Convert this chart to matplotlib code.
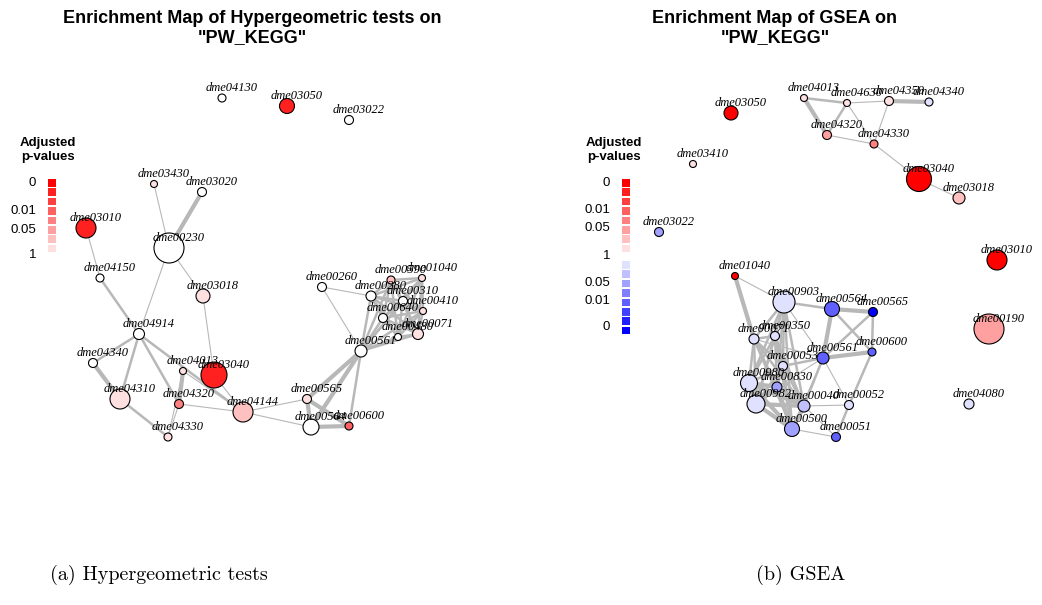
import itertools

import matplotlib
matplotlib.use('Agg')
from matplotlib import pyplot as plt
from matplotlib.collections import LineCollection
from matplotlib.patches import Rectangle

# palette = legend squares top to bottom (red: strong -> weak, blue: weak -> strong)
palette = ['#ff0000', '#ff2020', '#ff4040', '#ff6060', '#ff8080', '#ffa0a0', '#ffc0c0', '#ffe0e0',
           '#e0e0ff', '#c0c0ff', '#a0a0ff', '#8080ff', '#6060ff', '#4040ff', '#2020ff', '#0000ff']

# ---- panel (a): hypergeometric tests ----
# name: (x, y, gene-set size (radius), colour level; -1 = not significant)
nodes_a = {
    'dme04130': (222, 98, 4, -1),
    'dme03050': (287, 106, 7.5, 1),
    'dme03022': (349, 120, 4.5, -1),
    'dme03430': (154, 184, 3.5, 7),
    'dme03020': (202, 192, 4.5, -1),
    'dme03010': (86, 228, 10, 1),
    'dme00230': (169, 248, 15, -1),
    'dme04150': (100, 278, 4, -1),
    'dme03018': (203, 296, 7, 7),
    'dme04914': (139, 334, 5.5, -1),
    'dme04340': (93, 363, 4.5, -1),
    'dme04013': (183, 371, 3.5, 7),
    'dme03040': (214, 375, 13, 1),
    'dme04310': (120, 399, 10, 7),
    'dme04320': (179, 404, 4.5, 4),
    'dme04144': (243, 412, 10, 6),
    'dme04330': (168, 437, 4, 7),
    'dme00260': (322, 287, 4.5, -1),
    'dme00280': (371, 296, 5, -1),
    'dme00590': (391, 280, 4, 6),
    'dme01040': (422, 278, 3.5, 7),
    'dme00310': (403, 301, 4.5, -1),
    'dme00410': (423, 311, 3.5, 7),
    'dme00640': (383, 318, 4.5, -1),
    'dme00071': (418, 334, 5.5, 7),
    'dme00480': (398, 337, 3.5, -1),
    'dme00561': (361, 351, 6, -1),
    'dme00565': (307, 399, 4.5, 7),
    'dme00564': (311, 427, 8, -1),
    'dme00600': (349, 426, 4, 3),
}
edges_a = [
    ('dme03430', 'dme00230', 1), ('dme03020', 'dme00230', 3), ('dme00230', 'dme03018', 1),
    ('dme00230', 'dme04914', 1), ('dme03010', 'dme04150', 1), ('dme04150', 'dme04914', 2),
    ('dme03018', 'dme03040', 1), ('dme04914', 'dme04340', 2), ('dme04914', 'dme04310', 2),
    ('dme04914', 'dme04320', 2), ('dme04914', 'dme04144', 2), ('dme04340', 'dme04310', 3),
    ('dme04310', 'dme04330', 2), ('dme04013', 'dme04320', 3), ('dme04013', 'dme04144', 1),
    ('dme04320', 'dme04144', 1), ('dme04330', 'dme04013', 1), ('dme04330', 'dme04320', 1),
    ('dme03040', 'dme04144', 1), ('dme04144', 'dme00565', 1), ('dme04144', 'dme00564', 1),
    ('dme00260', 'dme00280', 1), ('dme00260', 'dme00561', 1), ('dme00561', 'dme00565', 3),
    ('dme00561', 'dme00564', 3), ('dme00561', 'dme00600', 2), ('dme00565', 'dme00564', 3),
    ('dme00565', 'dme00600', 3), ('dme00564', 'dme00600', 3),
]
cluster_a = ['dme00280', 'dme00590', 'dme01040', 'dme00310', 'dme00410',
             'dme00640', 'dme00071', 'dme00480', 'dme00561']

# ---- panel (b): GSEA ----
nodes_b = {
    'dme03050': (731, 113, 7, 0),
    'dme03410': (693, 164, 3.5, 7),
    'dme03022': (659, 232, 4.5, 10),
    'dme01040': (735, 276, 3.5, 0),
    'dme04013': (804, 98, 3.5, 7),
    'dme04630': (847, 103, 3.5, 7),
    'dme04350': (889, 101, 4.5, 7),
    'dme04340': (929, 102, 4, 8),
    'dme04320': (827, 135, 4.5, 5),
    'dme04330': (874, 144, 4, 4),
    'dme03040': (919, 179, 12.5, 0),
    'dme03018': (959, 198, 6, 6),
    'dme03010': (997, 260, 10, 0),
    'dme00190': (989, 329, 15, 5),
    'dme04080': (969, 404, 5, 8),
    'dme00903': (784, 302, 11, 8),
    'dme00564': (832, 309, 7.5, 12),
    'dme00565': (873, 312, 4.5, 15),
    'dme00071': (754, 339, 5, 8),
    'dme00350': (775, 336, 4.5, 8),
    'dme00600': (872, 352, 4, 12),
    'dme00561': (823, 358, 6, 12),
    'dme00053': (783, 366, 4.5, 8),
    'dme00980': (749, 383, 8.5, 8),
    'dme00830': (777, 387, 5, 10),
    'dme00982': (756, 404, 9, 8),
    'dme00040': (804, 406, 6, 9),
    'dme00052': (849, 405, 4.5, 8),
    'dme00500': (792, 429, 7.5, 10),
    'dme00051': (836, 437, 4.5, 12),
}
edges_b = [
    ('dme04013', 'dme04630', 2), ('dme04013', 'dme04320', 3), ('dme04630', 'dme04350', 1),
    ('dme04350', 'dme04340', 3), ('dme04630', 'dme04320', 2), ('dme04630', 'dme04330', 1),
    ('dme04350', 'dme04330', 1), ('dme04320', 'dme04330', 1), ('dme04330', 'dme03040', 1),
    ('dme03040', 'dme03018', 1), ('dme01040', 'dme00903', 1), ('dme01040', 'dme00071', 3),
    ('dme00903', 'dme00564', 2), ('dme00903', 'dme00561', 1), ('dme00564', 'dme00565', 3),
    ('dme00564', 'dme00561', 3), ('dme00565', 'dme00561', 2), ('dme00565', 'dme00600', 2),
    ('dme00564', 'dme00600', 2), ('dme00561', 'dme00600', 3), ('dme00561', 'dme00053', 2),
    ('dme00561', 'dme00071', 1), ('dme00561', 'dme00040', 2), ('dme00561', 'dme00500', 1),
    ('dme00561', 'dme00052', 1), ('dme00561', 'dme00830', 1), ('dme00600', 'dme00052', 2),
    ('dme00052', 'dme00051', 2), ('dme00052', 'dme00040', 1), ('dme00500', 'dme00051', 1),
    ('dme00040', 'dme00051', 1), ('dme00500', 'dme00040', 3),
]
cluster_b = ['dme00903', 'dme00071', 'dme00350', 'dme00053', 'dme00980',
             'dme00830', 'dme00982', 'dme00040', 'dme00500']
core_b = ['dme00980', 'dme00982', 'dme00830', 'dme00500', 'dme00040']

# legend
legend_a_labels = ['0', '0.01', '0.05', '1']
legend_a_y = [183, 211, 230, 255]
legend_b_labels = ['0', '0.01', '0.05', '1', '0.05', '0.01', '0']
legend_b_y = [183, 210, 228, 256, 283, 301, 327]

titles = ['Enrichment Map of Hypergeometric tests on\n"PW_KEGG"',
          'Enrichment Map of GSEA on\n"PW_KEGG"']
captions = ['(a) Hypergeometric tests', '(b) GSEA']

W, H = 1042, 605
fig = plt.figure(figsize=(W / 100, H / 100), dpi=100)
ax = fig.add_axes([0, 0, 1, 1])
ax.set_xlim(0, W)
ax.set_ylim(H, 0)
ax.axis('off')

lw_map = {1: 0.8, 2: 1.8, 3: 3.0}


def draw_network(nodes, edges):
    segs = [[nodes[a][:2], nodes[b][:2]] for a, b, w in edges]
    widths = [lw_map[w] for a, b, w in edges]
    ax.add_collection(LineCollection(segs, colors='#b8b8b8', linewidths=widths, zorder=1))
    names = list(nodes)
    xs = [nodes[n][0] for n in names]
    ys = [nodes[n][1] for n in names]
    sz = [(2 * nodes[n][2] * 0.72) ** 2 for n in names]
    cols = ['white' if nodes[n][3] < 0 else palette[nodes[n][3]] for n in names]
    ax.scatter(xs, ys, s=sz, c=cols, edgecolors='black', linewidths=0.8, zorder=2)
    for n in names:
        ax.text(nodes[n][0] + 10, nodes[n][1] - 10, n, family='Liberation Serif', style='italic',
                fontsize=9, ha='center', va='center', zorder=3)


def pairs(members, w):
    return [(a, b, w) for a, b in itertools.combinations(members, 2)]


draw_network(nodes_a, edges_a + pairs(cluster_a, 2))
draw_network(nodes_b, pairs(cluster_b, 2) + pairs(core_b, 3) + edges_b)


def draw_legend(x0, title_x, n_sq, labels, label_y):
    ax.text(title_x, 150, 'Adjusted\np-values', family='Liberation Sans', fontweight='bold',
            fontsize=9.5, ha='center', va='center', linespacing=1.15)
    for i in range(n_sq):
        y = 179 + i * 9.4 if i < 8 else 261 + (i - 8) * 9.4
        ax.add_patch(Rectangle((x0, y), 8, 7.6, color=palette[i], lw=0))
    for lab, y in zip(labels, label_y):
        ax.text(x0 - 12, y, lab, family='Liberation Sans', fontsize=9.5, ha='right', va='center')


draw_legend(48, 48, 8, legend_a_labels, legend_a_y)
draw_legend(622, 614, 16, legend_b_labels, legend_b_y)

for tx, t in zip([252, 775], titles):
    ax.text(tx, 28, t, family='Liberation Sans', fontweight='bold', fontsize=13,
            ha='center', va='center', linespacing=1.1)

for cx, c in zip([159, 801], captions):
    ax.text(cx, 575, c, family='cmr10', fontsize=14.5, ha='center', va='center')

fig.savefig('out.png', dpi=100)
